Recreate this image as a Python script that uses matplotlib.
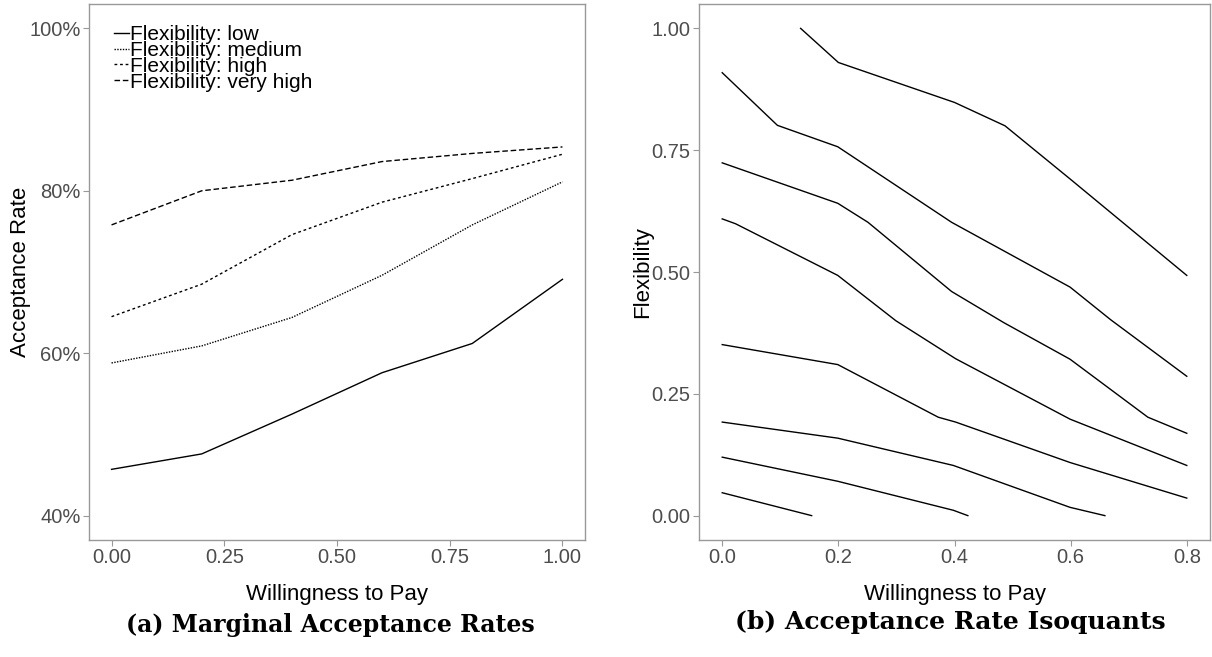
import matplotlib.pyplot as plt
from matplotlib.ticker import FuncFormatter

# --- Data: panel (a) marginal acceptance rates ---
wtp = [0.0, 0.2, 0.4, 0.6, 0.8, 1.0]
flex_labels = ["Flexibility: low", "Flexibility: medium",
               "Flexibility: high", "Flexibility: very high"]
rate_low = [0.457, 0.476, 0.525, 0.576, 0.612, 0.691]
rate_medium = [0.588, 0.609, 0.644, 0.696, 0.758, 0.811]
rate_high = [0.645, 0.685, 0.746, 0.786, 0.815, 0.845]
rate_vhigh = [0.758, 0.800, 0.813, 0.836, 0.846, 0.854]

# --- Data: panel (b) isoquants (x = willingness to pay, y = flexibility) ---
iso_x = [
    [0.135, 0.2, 0.4, 0.487, 0.6, 0.8],
    [0.0, 0.095, 0.199, 0.395, 0.599, 0.669, 0.8],
    [0.0, 0.199, 0.251, 0.395, 0.485, 0.599, 0.733, 0.8],
    [0.0, 0.023, 0.199, 0.299, 0.402, 0.599, 0.8],
    [0.0, 0.199, 0.372, 0.402, 0.599, 0.8],
    [0.0, 0.199, 0.398, 0.599, 0.659],
    [0.0, 0.199, 0.398, 0.423],
    [0.0, 0.154],
]
iso_y = [
    [1.0, 0.930, 0.848, 0.800, 0.690, 0.493],
    [0.909, 0.801, 0.757, 0.602, 0.469, 0.402, 0.286],
    [0.724, 0.641, 0.602, 0.460, 0.396, 0.321, 0.202, 0.169],
    [0.609, 0.599, 0.493, 0.400, 0.322, 0.198, 0.103],
    [0.351, 0.310, 0.202, 0.192, 0.109, 0.036],
    [0.192, 0.159, 0.103, 0.017, 0.0],
    [0.120, 0.0705, 0.011, 0.0],
    [0.047, 0.0],
]

plt.rcParams["font.family"] = ["Liberation Sans", "DejaVu Sans"]

W, H = 1212, 657
fig = plt.figure(figsize=(W / 100, H / 100), dpi=100)
ax1 = fig.add_axes([89 / W, 1 - 540 / H, 496 / W, 536 / H])
ax2 = fig.add_axes([699 / W, 1 - 540 / H, 511 / W, 536 / H])

spine_col = "#999999"
tick_col = "#4d4d4d"


def style(ax):
    for s in ax.spines.values():
        s.set_color(spine_col)
        s.set_linewidth(1.0)
    ax.tick_params(colors=spine_col, labelcolor=tick_col, labelsize=14.5,
                   length=4, width=0.8, pad=2)
    ax.grid(False)


# panel (a)
styles = ["-", (0, (1, 1)), (0, (2, 2)), (0, (4, 2))]
series = [rate_low, rate_medium, rate_high, rate_vhigh]
for vals, ls, lab in zip(series, styles, flex_labels):
    ax1.plot(wtp, vals, color="black", lw=1.0, linestyle=ls, label=lab)
ax1.set_xlim(-0.05, 1.05)
ax1.set_ylim(0.37, 1.03)
ax1.set_xticks([0, 0.25, 0.5, 0.75, 1.0])
ax1.set_xticklabels(["0.00", "0.25", "0.50", "0.75", "1.00"])
ax1.set_yticks([0.4, 0.6, 0.8, 1.0])
ax1.yaxis.set_major_formatter(FuncFormatter(lambda v, p: f"{v * 100:.0f}%"))
style(ax1)
ax1.set_xlabel("Willingness to Pay", fontsize=16, labelpad=12)
ax1.set_ylabel("Acceptance Rate", fontsize=16, labelpad=-1)
ax1.legend(loc="upper left", bbox_to_anchor=(0.02, 0.988), frameon=False,
           fontsize=15, handlelength=0.75, handletextpad=0.05,
           labelspacing=-0.15, borderaxespad=0.3)

# panel (b)
for xs, ys in zip(iso_x, iso_y):
    ax2.plot(xs, ys, color="black", lw=1.0)
ax2.set_xlim(-0.04, 0.84)
ax2.set_ylim(-0.05, 1.05)
ax2.set_xticks([0, 0.2, 0.4, 0.6, 0.8])
ax2.set_xticklabels(["0.0", "0.2", "0.4", "0.6", "0.8"])
ax2.set_yticks([0, 0.25, 0.5, 0.75, 1.0])
ax2.set_yticklabels(["0.00", "0.25", "0.50", "0.75", "1.00"])
style(ax2)
ax2.set_xlabel("Willingness to Pay", fontsize=16, labelpad=12)
ax2.set_ylabel("Flexibility", fontsize=16, labelpad=-1)

# captions
fig.text(330 / W, 1 - 625 / H, "(a) Marginal Acceptance Rates",
         ha="center", va="center", fontsize=17, fontweight="bold",
         family="DejaVu Serif")
fig.text(950 / W, 1 - 622 / H, "(b) Acceptance Rate Isoquants",
         ha="center", va="center", fontsize=18, fontweight="bold",
         family="DejaVu Serif")

fig.savefig("out.png", dpi=100, facecolor="white")
